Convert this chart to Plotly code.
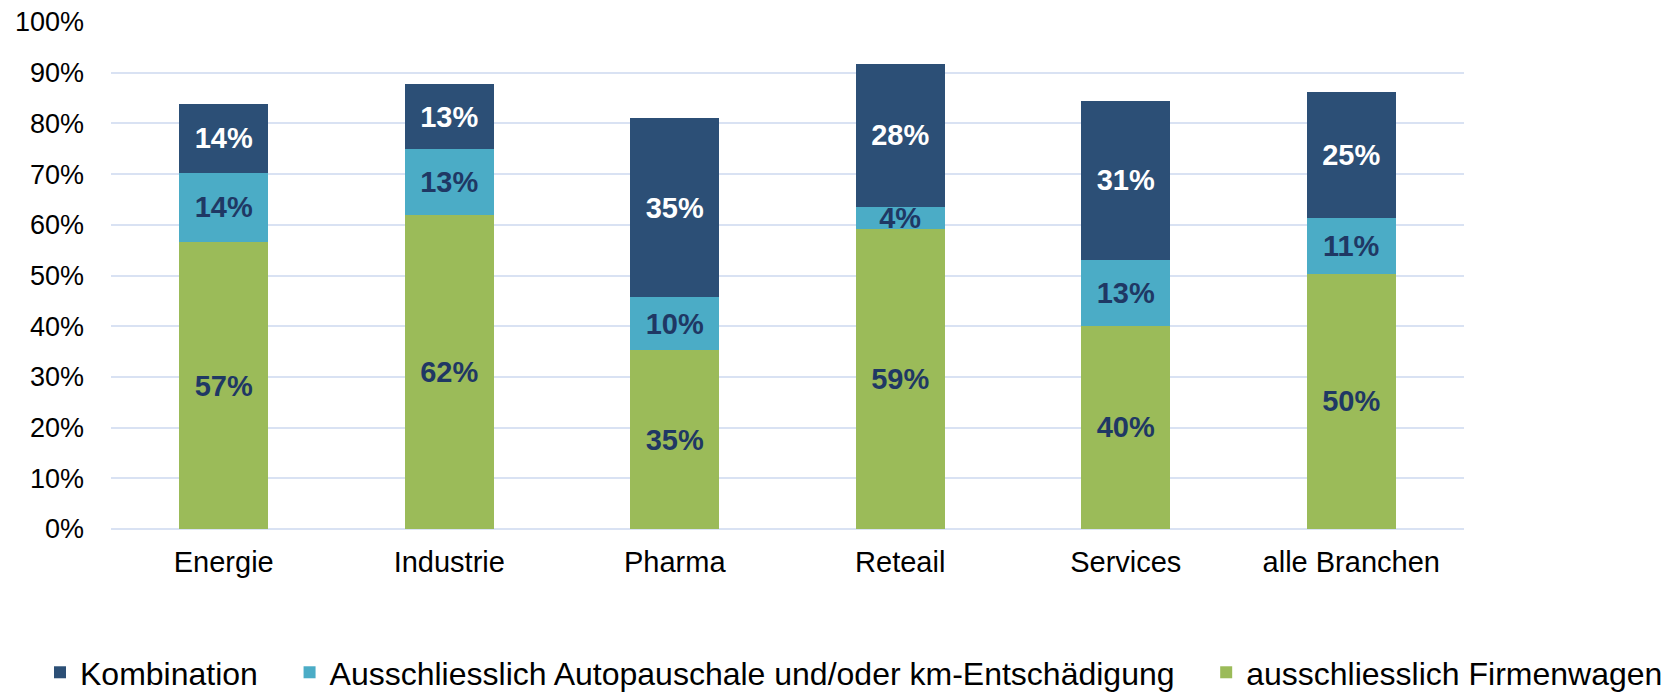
import plotly.graph_objects as go

categories = ["Energie", "Industrie", "Pharma", "Reteail", "Services", "alle Branchen"]
firmenwagen = [56.6, 61.9, 35.3, 59.1, 40.1, 50.3]
pauschale = [13.7, 13.0, 10.4, 4.4, 13.0, 11.1]
kombination = [13.6, 12.9, 35.4, 28.3, 31.3, 24.8]

NB = "\u00a0"
names = ["ausschliesslich Firmenwagen",
         "Ausschliesslich Autopauschale und/oder km-Entschädigung" + NB * 3,
         "Kombination" + NB * 3]
colors = ["#9BBB59", "#4BACC6", "#2C4F76"]
label_colors = ["#1F3864", "#1F3864", "#FFFFFF"]
series = [firmenwagen, pauschale, kombination]

FONT = "Liberation Sans, Arial, sans-serif"

fig = go.Figure()
for vals, name, col, lc in zip(series, names, colors, label_colors):
    fig.add_trace(go.Bar(
        x=categories, y=vals, name=name,
        marker=dict(color=col, line=dict(width=0)),
        text=[f"{round(v):d}%" for v in vals],
        textposition="inside", insidetextanchor="middle",
        textfont=dict(family=FONT, size=29, color=lc, weight="bold"),
        hoverinfo="skip",
    ))

L, R, T, B = 40, 10, 21.5, 163.7
W, H = 1679, 693
gw = W - L - R
gh = H - T - B

fig.update_layout(
    width=W, height=H,
    barmode="stack", bargap=0.605,
    plot_bgcolor="white", paper_bgcolor="white",
    margin=dict(l=L, r=R, t=T, b=B, autoexpand=False),
    font=dict(family=FONT, size=27, color="#000000"),
    uniformtext=dict(minsize=29, mode="show"),
    showlegend=True,
    legend=dict(orientation="h", traceorder="reversed",
                x=0, xanchor="left", y=(529.3 - 673) / gh, yanchor="middle",
                font=dict(family=FONT, size=32, color="#000000"),
                itemwidth=30),
)
fig.update_yaxes(range=[0, 100], dtick=10, ticksuffix="%",
                 showgrid=True, gridcolor="#D9E2F3", gridwidth=2,
                 zeroline=True, zerolinecolor="#D9E2F3", zerolinewidth=2,
                 showline=False, ticks="", ticklabelstandoff=26,
                 automargin=False,
                 tickfont=dict(family=FONT, size=27, color="#000000"))
fig.update_xaxes(domain=[(111 - L) / gw, (1464 - L) / gw],
                 showgrid=False, showline=False, ticks="",
                 ticklabelstandoff=13, automargin=False,
                 tickfont=dict(family=FONT, size=29, color="#000000"))

fig.write_html("out.html",
               config={"displayModeBar": False},
               post_script="document.body.style.margin='0px';document.body.style.overflow='hidden';")
